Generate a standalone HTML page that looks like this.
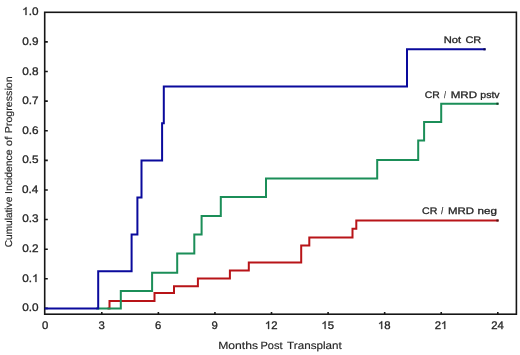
<!DOCTYPE html>
<html>
<head>
<meta charset="utf-8">
<style>
html,body{margin:0;padding:0;background:#fff;width:520px;height:355px;overflow:hidden;}
svg{display:block;will-change:transform;}
.g1{fill:#262626;stroke:#262626;}
.h{fill:none;stroke:none;}
text{text-rendering:geometricPrecision;font-family:"Liberation Sans",sans-serif;font-size:9.5px;fill:#262626;stroke:#262626;stroke-width:0.3px;}
</style>
</head>
<body>
<svg width="520" height="355" viewBox="0 0 520 355">
<rect x="0" y="0" width="520" height="355" fill="#fff"/>
<rect x="44.7" y="12.3" width="471.70" height="301.90" fill="none" stroke="#161616" stroke-width="1.6"/>
<path stroke="#161616" stroke-width="1.6" d="M44.7 308.40H47.80M44.7 278.79H47.80M44.7 249.18H47.80M44.7 219.57H47.80M44.7 189.96H47.80M44.7 160.35H47.80M44.7 130.74H47.80M44.7 101.13H47.80M44.7 71.52H47.80M44.7 41.91H47.80M101.80 314.2V311.90M158.37 314.2V311.90M214.94 314.2V311.90M271.51 314.2V311.90M328.09 314.2V311.90M384.66 314.2V311.90M441.23 314.2V311.90M497.80 314.2V311.90"/>
<g fill="none" stroke-width="2" stroke-linejoin="miter">
<path stroke="#b81418" d="M107.5 308.4H109.5V301H154.5V293.1H174V286.3H197.9V278.4H229.9V270.4H248.8V262.6H301.2V245.5H309.3V237.5H352.5V228.8H356.3V220.5H498.5"/>
<path stroke="#1b8e58" d="M96.2 308.4H120.8V290.9H152.1V272.7H177.2V253.4H194.3V234.6H201.6V216H220.8V197H266V178.6H377.2V159.9H418.2V140.5H424.1V122H441.2V103.7H498.5"/>
<path stroke="#0a0a9c" d="M44.7 308.4H98.2V271.3H131.6V234.4H137.4V197.4H141.5V160.4H162.1V123.3H163.8V86.4H407V49.3H485.5"/>
</g>
<g>
<rect x="496.4" y="219.5" width="2.2" height="2" fill="#4a1416"/>
<rect x="496.4" y="102.7" width="2.1" height="2" fill="#163c26"/>
<rect x="483.4" y="48.3" width="2.2" height="2" fill="#08084e"/>
</g>
<g>
<text style="font-size:11px;" transform="translate(22.14 311.00) scale(1.0700 1)">0.0</text>
<text style="font-size:11px;" transform="translate(22.25 282.00) scale(1.0700 1)">0.<tspan class="h">1</tspan></text><path class="g1" transform="translate(22.25 282.00) scale(1.0700 1) translate(9.174 0) scale(0.005371 -0.005371)" stroke-width="55.9" d="M763 0L583 0L583 1147L531 1100L440 1035L330 975L223 925L223 1098L330 1150L440 1225L530 1310L600 1400L646 1466L763 1466Z"/>
<text style="font-size:11px;" transform="translate(22.27 252.00) scale(1.0700 1)">0.2</text>
<text style="font-size:11px;" transform="translate(22.19 222.00) scale(1.0700 1)">0.3</text>
<text style="font-size:11px;" transform="translate(22.02 193.00) scale(1.0700 1)">0.4</text>
<text style="font-size:11px;" transform="translate(22.17 163.00) scale(1.0700 1)">0.5</text>
<text style="font-size:11px;" transform="translate(22.19 134.00) scale(1.0700 1)">0.6</text>
<text style="font-size:11px;" transform="translate(22.27 104.00) scale(1.0700 1)">0.7</text>
<text style="font-size:11px;" transform="translate(22.19 75.00) scale(1.0700 1)">0.8</text>
<text style="font-size:11px;" transform="translate(22.24 45.00) scale(1.0700 1)">0.9</text>
<text style="font-size:11px;" transform="translate(22.14 15.00) scale(1.0700 1)"><tspan class="h">1</tspan>.0</text><path class="g1" transform="translate(22.14 15.00) scale(1.0700 1) translate(0.000 0) scale(0.005371 -0.005371)" stroke-width="55.9" d="M763 0L583 0L583 1147L531 1100L440 1035L330 975L223 925L223 1098L330 1150L440 1225L530 1310L600 1400L646 1466L763 1466Z"/>
<text style="font-size:11px;" transform="translate(41.88 329.00) scale(1.0300 1)">0</text>
<text style="font-size:11px;" transform="translate(98.48 329.00) scale(1.0300 1)">3</text>
<text style="font-size:11px;" transform="translate(154.98 329.00) scale(1.0300 1)">6</text>
<text style="font-size:11px;" transform="translate(211.60 329.00) scale(1.0300 1)">9</text>
<text style="font-size:11px;" transform="translate(264.87 329.00) scale(1.0300 1)"><tspan class="h">1</tspan>2</text><path class="g1" transform="translate(264.87 329.00) scale(1.0300 1) translate(0.000 0) scale(0.005371 -0.005371)" stroke-width="55.9" d="M763 0L583 0L583 1147L531 1100L440 1035L330 975L223 925L223 1098L330 1150L440 1225L530 1310L600 1400L646 1466L763 1466Z"/>
<text style="font-size:11px;" transform="translate(321.39 329.00) scale(1.0300 1)"><tspan class="h">1</tspan>5</text><path class="g1" transform="translate(321.39 329.00) scale(1.0300 1) translate(0.000 0) scale(0.005371 -0.005371)" stroke-width="55.9" d="M763 0L583 0L583 1147L531 1100L440 1035L330 975L223 925L223 1098L330 1150L440 1225L530 1310L600 1400L646 1466L763 1466Z"/>
<text style="font-size:11px;" transform="translate(377.97 329.00) scale(1.0300 1)"><tspan class="h">1</tspan>8</text><path class="g1" transform="translate(377.97 329.00) scale(1.0300 1) translate(0.000 0) scale(0.005371 -0.005371)" stroke-width="55.9" d="M763 0L583 0L583 1147L531 1100L440 1035L330 975L223 925L223 1098L330 1150L440 1225L530 1310L600 1400L646 1466L763 1466Z"/>
<text style="font-size:11px;" transform="translate(434.72 329.00) scale(1.0300 1)">2<tspan class="h">1</tspan></text><path class="g1" transform="translate(434.72 329.00) scale(1.0300 1) translate(6.118 0) scale(0.005371 -0.005371)" stroke-width="55.9" d="M763 0L583 0L583 1147L531 1100L440 1035L330 975L223 925L223 1098L330 1150L440 1225L530 1310L600 1400L646 1466L763 1466Z"/>
<text style="font-size:11px;" transform="translate(491.18 329.00) scale(1.0300 1)">24</text>
<text style="font-size:10.5px;stroke-width:0.15px;" transform="translate(218.19 349.00) scale(1.1577 1)">Months</text>
<text style="font-size:10.5px;stroke-width:0.15px;" transform="translate(260.48 349.00) scale(1.0484 1)">Post</text>
<text style="font-size:10.5px;stroke-width:0.15px;" transform="translate(287.12 349.00) scale(1.1103 1)">Transplant</text>
<text style="font-size:10px;stroke-width:0.15px;" transform="translate(12.10 247.24) rotate(-90) scale(1.0098 1)">Cumulative</text>
<text style="font-size:10px;stroke-width:0.15px;" transform="translate(12.10 193.98) rotate(-90) scale(1.0387 1)">Incidence</text>
<text style="font-size:10px;stroke-width:0.15px;" transform="translate(12.10 146.19) rotate(-90) scale(1.1380 1)">of</text>
<text style="font-size:10px;stroke-width:0.15px;" transform="translate(12.10 133.29) rotate(-90) scale(1.0665 1)">Progression</text>
<text transform="translate(443.76 43.00) scale(1.1732 1)">Not</text>
<text transform="translate(465.42 43.00) scale(1.1528 1)">CR</text>
<text transform="translate(424.84 98.00) scale(1.0918 1)">CR</text>
<text transform="translate(444.29 98.00) scale(0.5783 1)">/</text>
<text transform="translate(450.73 98.00) scale(1.2173 1)">MRD</text>
<text transform="translate(480.29 98.00) scale(1.1067 1)">pstv</text>
<text transform="translate(422.03 214.00) scale(1.1147 1)">CR</text>
<text transform="translate(441.21 214.00) scale(0.7144 1)">/</text>
<text transform="translate(448.04 214.00) scale(1.2028 1)">MRD</text>
<text transform="translate(477.51 214.00) scale(1.2209 1)">neg</text>
</g>
</svg>
</body>
</html>
